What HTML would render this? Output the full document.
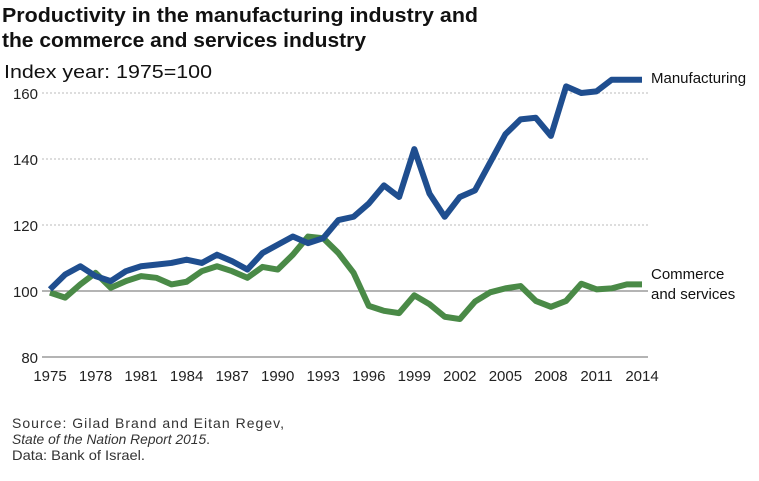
<!DOCTYPE html>
<html><head><meta charset="utf-8"><style>
body{margin:0;background:#fff;width:759px;height:476px;overflow:hidden;font-family:"Liberation Sans",sans-serif}
svg text{font-family:"Liberation Sans",sans-serif}
</style></head><body>
<svg id="chart" width="759" height="476" xmlns="http://www.w3.org/2000/svg">
<text x="2" y="22" font-size="20" font-weight="bold" fill="#111" textLength="476" lengthAdjust="spacingAndGlyphs">Productivity in the manufacturing industry and</text>
<text x="2" y="47" font-size="20" font-weight="bold" fill="#111" textLength="364" lengthAdjust="spacingAndGlyphs">the commerce and services industry</text>
<text x="4" y="78" font-size="18" fill="#111" textLength="208" lengthAdjust="spacingAndGlyphs">Index year: 1975=100</text>
<g id="grid"></g><g id="series"></g>
<text x="12" y="428" font-size="14" fill="#333" textLength="272" lengthAdjust="spacing">Source: Gilad Brand and Eitan Regev,</text>
<text x="12" y="444" font-size="14" fill="#333" font-style="italic" textLength="198" lengthAdjust="spacingAndGlyphs">State of the Nation Report 2015<tspan font-style="normal">.</tspan></text>
<text x="12" y="460" font-size="14" fill="#333" textLength="133" lengthAdjust="spacingAndGlyphs">Data: Bank of Israel.</text>
</svg>
<script>
const years=[];for(let y=1975;y<=2014;y++)years.push(y);
const manufacturing=[100.5,105,107.5,104.5,103,106,107.5,108,108.5,109.5,108.5,111,109,106.5,111.5,114,116.5,114.5,116,121.5,122.5,126.5,132,128.5,143,129.5,122.5,128.5,130.5,139,147.5,152,152.5,147,162,160,160.5,164,164,164];
const commerce=[99.5,98,102,105.5,101,103,104.5,104,102,102.8,106,107.5,106,104,107.3,106.5,111,116.5,116,111.5,105.5,95.5,94,93.3,98.7,96,92.2,91.5,96.8,99.6,100.8,101.5,97,95.2,97,102.2,100.5,100.8,102,102];
const yTicks=[80,100,120,140,160];
const xTicks=[1975,1978,1981,1984,1987,1990,1993,1996,1999,2002,2005,2008,2011,2014];
const NS="http://www.w3.org/2000/svg";
const X=y=>50+(y-1975)*(592/39);
const Y=v=>357-(v-80)*3.3;
const g=document.getElementById('grid'),s=document.getElementById('series');
function mk(tag,attrs,parent){const e=document.createElementNS(NS,tag);for(const k in attrs)e.setAttribute(k,attrs[k]);parent.appendChild(e);return e;}
yTicks.forEach(v=>{
  const l=mk('line',{x1:42,x2:648,y1:Y(v),y2:Y(v),stroke:v===100||v===80?'#888':'#bbb','stroke-width':v===100||v===80?1.2:1,'stroke-dasharray':v===100||v===80?'':'2,2'},g);
  
  
  const t=mk('text',{x:38,y:Y(v)+6,'text-anchor':'end','font-size':15,fill:'#222'},g);t.textContent=v;
  
  
});
xTicks.forEach(yr=>{
  const t=mk('text',{x:X(yr),y:381,'text-anchor':'middle','font-size':15,fill:'#222'},g);t.textContent=yr;
  
  
});
function line(vals,color,name){
  const p=mk('polyline',{points:vals.map((v,i)=>X(years[i])+','+Y(v)).join(' '),fill:'none',stroke:color,'stroke-width':6,'stroke-linejoin':'round'},s);
  
  
}
line(commerce,'#4a8a47','commerce-line');
line(manufacturing,'#1f4e8f','manufacturing-line');
const l1=mk('text',{x:651,y:83,'font-size':15,fill:'#111'},s);l1.textContent='Manufacturing';


const l2=mk('text',{x:651,y:279,'font-size':15,fill:'#111'},s);l2.textContent='Commerce';


const l3=mk('text',{x:651,y:299,'font-size':15,fill:'#111'},s);l3.textContent='and services';


</script>
</body></html>
